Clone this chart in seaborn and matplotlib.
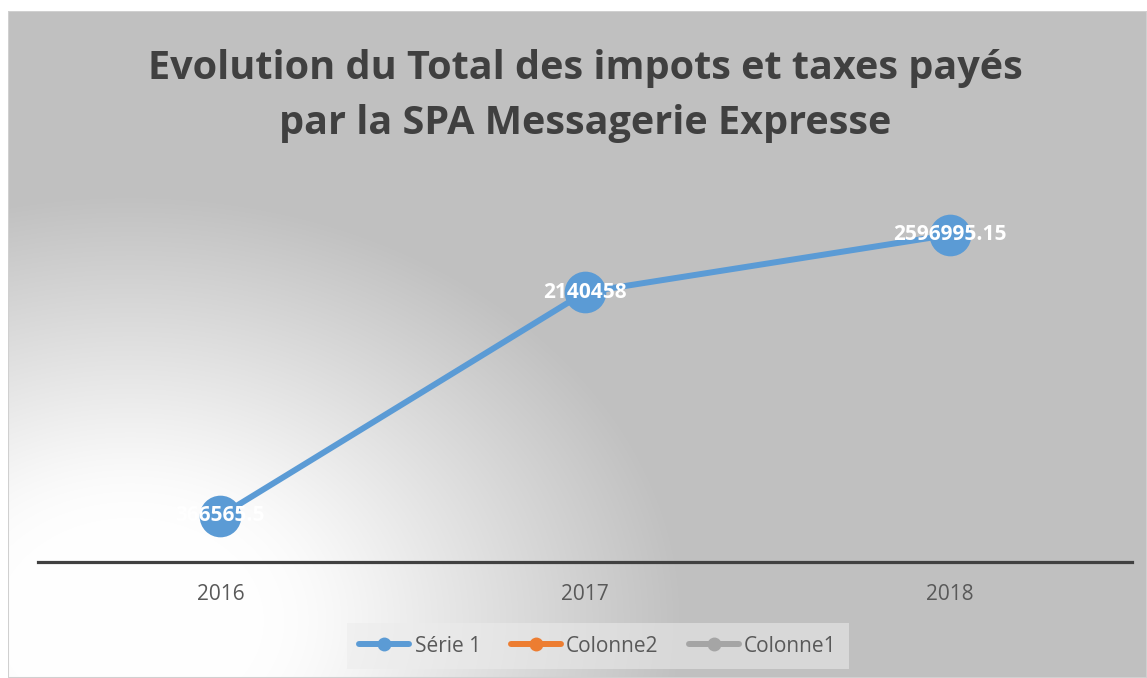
import numpy as np
import pandas as pd
import matplotlib
matplotlib.use("Agg")
import matplotlib.pyplot as plt
from matplotlib.lines import Line2D
from matplotlib.patches import Rectangle
import seaborn as sns

# ---- data ----
years = ["2016", "2017", "2018"]
serie1 = [366565.5, 2140458, 2596995.15]
labels = ["366565.5", "2140458", "2596995.15"]
legend_names = ["Série 1", "Colonne2", "Colonne1"]
legend_colors = ["#5B9BD5", "#ED7D31", "#A5A5A5"]
title_text = "Evolution du Total des impots et taxes payés\npar la SPA Messagerie Expresse"

sns.set_theme(style="white")
plt.rcParams["font.family"] = ["Open Sans", "DejaVu Sans"]

W, H = 1147, 678
fig = plt.figure(figsize=(W / 100, H / 100), dpi=100, facecolor="white")

# ---- background gradient (chart area) ----
x0, ytop = 8, 11
bg = fig.add_axes([x0 / W, 0, 1 - x0 / W, 1 - ytop / H])
bg.set_axis_off()
gx = np.arange(x0, W)
gy = np.arange(ytop, H)
XX, YY = np.meshgrid(gx, gy)
cx, cy = 130, 620
r = np.sqrt((XX - cx) ** 2 + (1.3 * (YY - cy)) ** 2)
k = 25.0
soft = k * np.logaddexp(0, (r - 165) / k)
t = np.clip(soft / 390.0, 0, 1)
val = 255 - (255 - 192) * t
img = np.dstack([val, val, val]) / 255.0
bg.imshow(img, aspect="auto", extent=[0, 1, 0, 1], origin="upper")
bg.add_patch(Rectangle((0, 0), 1, 1, transform=bg.transAxes, fill=False,
                       edgecolor="#d0d0d0", lw=1.5))

# ---- main axes ----
left, right, bottom_px, top_px = 38, 1132, 562, 184
ax = fig.add_axes([left / W, (H - bottom_px) / H, (right - left) / W,
                   (bottom_px - top_px) / H])
ax.patch.set_alpha(0)

df = pd.DataFrame({"year": years, "value": serie1})
sns.lineplot(data=df, x="year", y="value", ax=ax, color="#5B9BD5", lw=4.3,
             marker="o", markersize=30, markeredgewidth=0, sort=False,
             legend=False)
for xi, (v, lab) in enumerate(zip(serie1, labels)):
    ax.text(xi, v, lab, color="white", fontsize=15, fontweight="bold",
            ha="center", va="center")

ax.set_xlim(-0.5, 2.5)
ax.set_ylim(0, 3000000)
ax.set_xlabel("")
ax.set_ylabel("")
ax.set_yticks([])
for s in ["top", "left", "right"]:
    ax.spines[s].set_visible(False)
ax.spines["bottom"].set_color("#404040")
ax.spines["bottom"].set_linewidth(2.3)
ax.tick_params(axis="x", length=0, pad=16, labelsize=15, labelcolor="#595959")

# ---- title ----
fig.text(585 / W, 1 - 49 / H, title_text, ha="center", va="top",
         fontsize=28.5, fontweight="bold", color="#404040", linespacing=1.52)

# ---- legend ----
handles = [Line2D([0], [0], color=c, lw=4.3, marker="o", markersize=10,
                  markeredgewidth=0) for c in legend_colors]
leg = fig.legend(handles, legend_names, loc="center",
                 bbox_to_anchor=(598 / W, 1 - 646 / H), ncol=3, frameon=True,
                 fontsize=15, handlelength=2.4, handletextpad=0.25,
                 columnspacing=1.45, borderpad=0.6, fancybox=False)
leg.get_frame().set_facecolor("#ececec")
leg.get_frame().set_alpha(0.55)
leg.get_frame().set_edgecolor("none")
for t_ in leg.get_texts():
    t_.set_color("#595959")

fig.savefig("out.png", dpi=100, facecolor="white")
